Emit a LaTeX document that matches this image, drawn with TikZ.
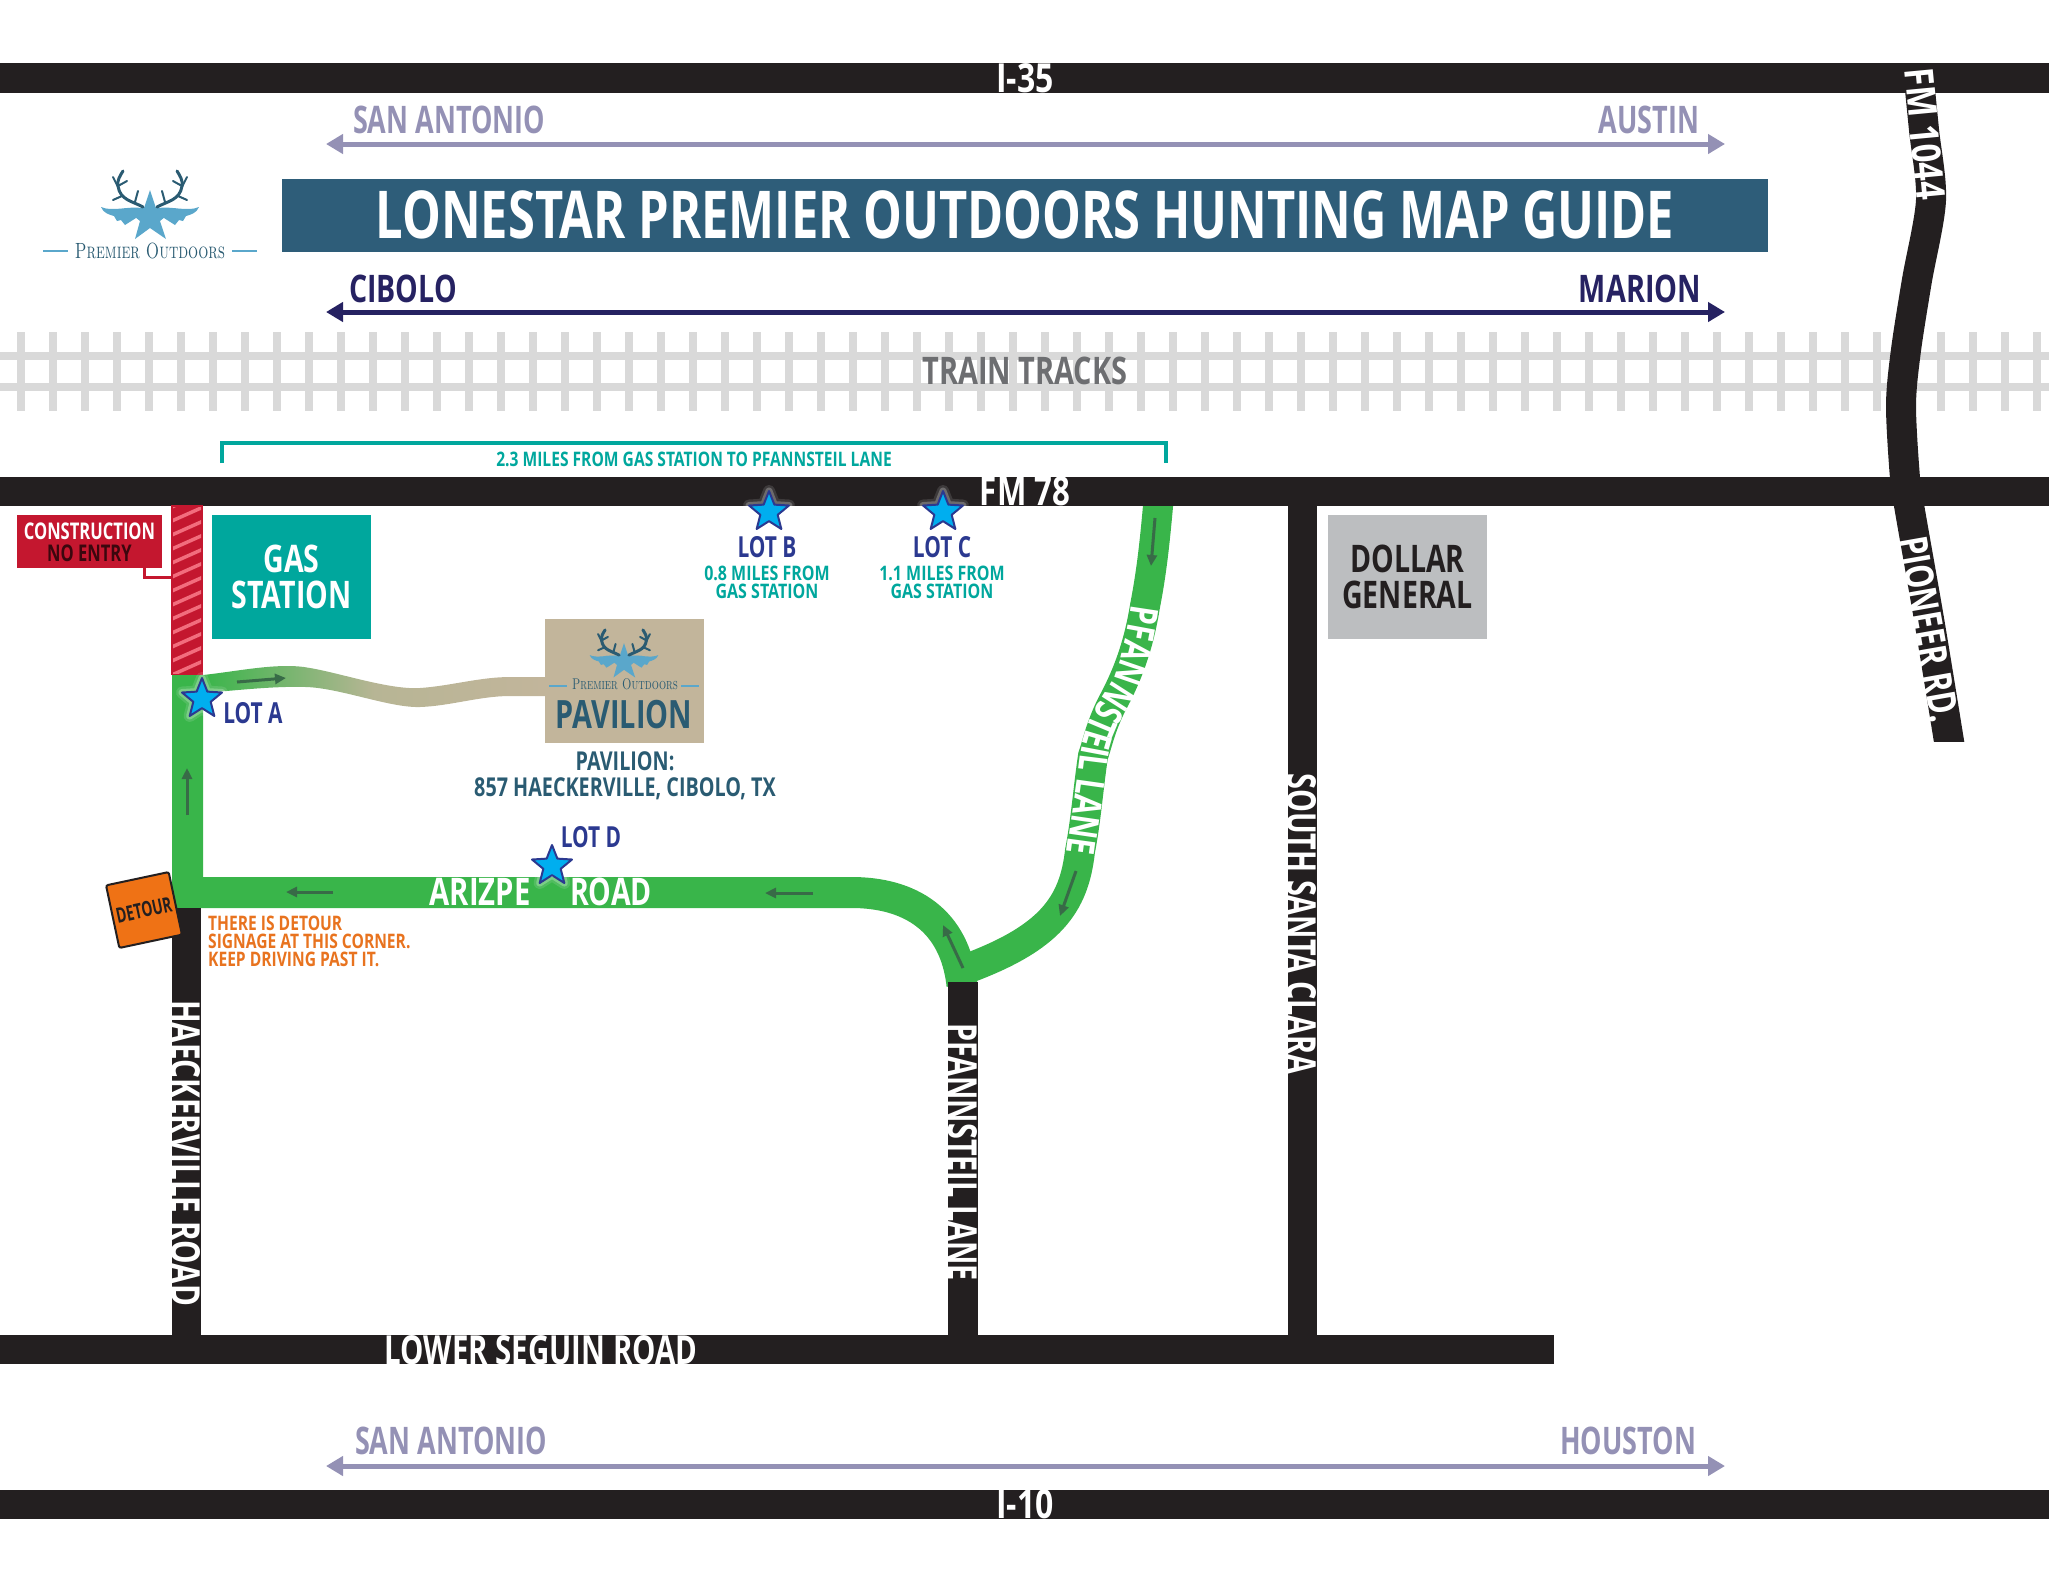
\documentclass[tikz,border=0pt]{standalone}
\usepackage{fontspec}
\setsansfont{Open Sans}
\newfontfamily\lanefont[FakeStretch=.74]{Open Sans}
\usetikzlibrary{arrows.meta, decorations.text, shapes.geometric}

\definecolor{roadblack}{HTML}{231F20}
\definecolor{bannerblue}{HTML}{2E5D79}
\definecolor{lavender}{HTML}{9491B5}
\definecolor{navyline}{HTML}{262262}
\definecolor{railgrey}{HTML}{D9D9D9}
\definecolor{tracktext}{HTML}{6D6E71}
\definecolor{gasteal}{HTML}{00A79D}
\definecolor{lanegreen}{HTML}{39B54A}
\definecolor{flowgreen}{HTML}{386B47}
\definecolor{pavtan}{HTML}{C2B59B}
\definecolor{dollargrey}{HTML}{BCBEC0}
\definecolor{closedred}{HTML}{C4172F}
\definecolor{closedpink}{HTML}{F26D7D}
\definecolor{lotblue}{HTML}{00AEEF}
\definecolor{lotnavy}{HTML}{2B3990}
\definecolor{detourorange}{HTML}{EF7215}
\definecolor{noteorange}{HTML}{E8731F}
\definecolor{logoblue}{HTML}{5AA7CB}
\definecolor{logodark}{HTML}{2A5B72}

\newcommand{\mapfont}[2]{\fontsize{#1}{#2}\selectfont\sffamily\bfseries}

\tikzset{
    every node/.style={inner sep=0pt},
    lettering/.style={xscale=#1},
    road/.style={fill=roadblack},
    roadlabel/.style={text=white, font=\mapfont{40}{40}},
    cityarrow/.style={line width=5pt, {Triangle[length=17pt,width=19pt]}-{Triangle[length=17pt,width=19pt]}},
    citylabel/.style={font=\mapfont{38}{38}},
    lane/.style={draw=lanegreen, line join=miter},
    flow/.style={draw=flowgreen, line width=3pt, -{Triangle[length=11pt,width=10pt]}},
    block/.style={minimum width=159pt, minimum height=124pt},
    blocklabel/.style={align=center, lettering=.75, font=\mapfont{38}{36}},
    lotlabel/.style={text=lotnavy, lettering=.72, font=\mapfont{29}{29}},
    milelabel/.style={text=gasteal, align=center, lettering=.80, font=\mapfont{20}{17.6}},
    lotstar/.style={star, star points=5, star point ratio=2.3, minimum size=42pt, fill=lotblue,
        draw=lotnavy, line width=2pt, line join=round,
        preaction={draw=white, line width=12pt, draw opacity=.12},
        preaction={draw=white, line width=7pt, draw opacity=.25}},
    logotext/.style={text=logodark, lettering=.72},
    logomark/.pic={
        \fill[logoblue] (0,-24) -- (6,-6) -- (26,-6) -- (10,7) -- (16,25) -- (0,14)
            -- (-15,25) -- (-10,7) -- (-26,-6) -- (-6,-6) -- cycle;
        \foreach \side in {1,-1} {
            \begin{scope}[xscale=\side]
                % wing and feathers
                \fill[logoblue] (-8,-6) .. controls (-22,-8) and (-38,-2) .. (-49,-7)
                    .. controls (-47,-1) and (-40,1) .. (-36,2) -- (-33,7) -- (-29,6) -- (-25,11) -- (-14,4) -- cycle;
                % antler
                \draw[logodark, line width=3pt, line cap=round]
                    (-7,-7) .. controls (-18,-13) and (-30,-14) .. (-32,-28) .. controls (-33,-34) and (-30,-38) .. (-27,-43);
                \draw[logodark, line width=2pt, line cap=round] (-15,-12) -- (-12,-23);
                \draw[logodark, line width=2pt, line cap=round] (-32,-28) -- (-23,-33);
                \draw[logodark, line width=2pt, line cap=round] (-32,-27) -- (-37,-37);
                \draw[logodark, line width=2pt, line cap=round] (-28,-18) -- (-37,-14);
                \draw[logoblue, line width=1.2pt] (-107,37) -- (-82,37);
            \end{scope}
        }
    },
}

\begin{document}
\begin{tikzpicture}[x=1pt, y=-1pt]
    \useasboundingbox (0,0) rectangle (2049,1583);

    % Train tracks
    \foreach \tiex in {21,53,...,2045} {
        \fill[railgrey] (\tiex-4,332) rectangle (\tiex+4,411);
    }
    \fill[railgrey] (0,352) rectangle (2049,360);
    \fill[railgrey] (0,383) rectangle (2049,391);
    \node[text=tracktext, lettering=.76, font=\mapfont{38}{38}] (tracks) at (1025,371) {TRAIN TRACKS};

    % Green route
    \draw[lane, line width=31pt] (187.5,675) -- (187.5,892.5) -- (850,892.5)
        .. controls (910,892) and (955,920) .. (962,985);
    \draw[lane, line width=30pt, line cap=round]
        (1159,495) .. controls (1155,540) and (1152,570) .. (1145,606)
        .. controls (1138,650) and (1125,680) .. (1112,704)
        .. controls (1100,728) and (1097,745) .. (1093,756)
        .. controls (1088,790) and (1086,820) .. (1080,851)
        .. controls (1074,905) and (1050,938) .. (966,969);
    \shade[left color=lanegreen, right color=pavtan, middle color=pavtan!92!lanegreen]
        (203,675) .. controls (240,671) and (280,662) .. (310,668)
        .. controls (340,673) and (390,690) .. (420,688)
        .. controls (450,686) and (480,677) .. (510,677) -- (545,677) -- (545,696) -- (510,696)
        .. controls (480,696) and (450,706) .. (420,707)
        .. controls (390,708) and (340,688) .. (306,687)
        .. controls (275,686) and (240,690) .. (203,693) -- cycle;

    % Roads
    \fill[road] (0,63) rectangle (2049,93);
    \fill[road] (0,1490) rectangle (2049,1519);
    \fill[road] (0,1335) rectangle (1554,1364);
    \fill[road] (172,908) rectangle (201,1335);
    \fill[road] (948,982) rectangle (978,1335);
    \fill[road] (1288,506) rectangle (1317,1335);
    \begin{scope}
        \clip (1800,63) rectangle (2049,741);
        \draw[roadblack, line width=30pt] plot[smooth] coordinates
            {(1917,60) (1924,130) (1931,200) (1917,280) (1906,350) (1901,405) (1905,478) (1910,511) (1930,625) (1952,760)};
    \end{scope}
    \fill[road] (0,477) rectangle (2049,506);

    \node[roadlabel, lettering=.80] (ithirtyfive) at (1025,78) {I-35};
    \node[roadlabel, lettering=.80] (iten) at (1025,1504) {I-10};
    \node[roadlabel, lettering=.78] (fmseventyeight) at (1025,491) {FM 78};
    \node[roadlabel, lettering=.735] (seguin) at (541,1350) {LOWER SEGUIN ROAD};
    \node[roadlabel, rotate=-90, lettering=.74] (haeckerville) at (186,1153) {HAECKERVILLE ROAD};
    \node[roadlabel, rotate=-90, lettering=.72] (pfannsteilroad) at (963,1152) {PFANNSTEIL LANE};
    \node[roadlabel, rotate=-90, lettering=.72] (santaclara) at (1302,924) {SOUTH SANTA CLARA};
    \node[roadlabel, rotate=-84.6, lettering=.82] (fmtenfortyfour) at (1925,134) {FM 1044};
    \node[roadlabel, rotate=-80, lettering=.75] (pioneer) at (1929,629) {PIONEER RD.};

    % Direction arrows with city names
    \coordinate (topwest) at (326,144);
    \coordinate (topeast) at (1725,144);
    \coordinate (midwest) at (326,312);
    \coordinate (mideast) at (1725,312);
    \coordinate (lowwest) at (326,1466);
    \coordinate (loweast) at (1725,1466);
    \draw[cityarrow, lavender] (topwest) -- (topeast);
    \draw[cityarrow, navyline] (midwest) -- (mideast);
    \draw[cityarrow, lavender] (lowwest) -- (loweast);
    \node[citylabel, lettering=.71, text=lavender] (westtop) at (449,120) {SAN ANTONIO};
    \node[citylabel, lettering=.71, text=lavender] (austin) at (1649,120) {AUSTIN};
    \node[citylabel, lettering=.75, text=navyline] (cibolo) at (403,289) {CIBOLO};
    \node[citylabel, lettering=.76, text=navyline] (marion) at (1640,289) {MARION};
    \node[citylabel, lettering=.71, text=lavender] (westlow) at (451,1441) {SAN ANTONIO};
    \node[citylabel, lettering=.71, text=lavender] (houston) at (1628,1441) {HOUSTON};

    % Title banner and logo
    \node[fill=bannerblue, minimum width=1486pt, minimum height=73pt] (banner) at (1025,215.5) {};
    \node[text=white, lettering=.74, font=\mapfont{66}{66}] (bannertext) at (1025,214.5)
        {LONESTAR PREMIER OUTDOORS HUNTING MAP GUIDE};
    \pic (toplogo) at (150,214) {logomark};
    \node[logotext, font=\fontsize{22}{22}\selectfont\rmfamily\scshape] (toplogotext) at (150,251) {Premier Outdoors};

    % Distance bracket
    \coordinate (bracketa) at (222,463);
    \coordinate (bracketb) at (222,443);
    \coordinate (bracketc) at (1166,443);
    \coordinate (bracketd) at (1166,463);
    \draw[gasteal, line width=4pt] (bracketa) -- (bracketb) -- (bracketc) -- (bracketd);
    \node[text=gasteal, lettering=.78, font=\mapfont{20}{20}] (distance) at (694,459) {2.3 MILES FROM GAS STATION TO PFANNSTEIL LANE};

    % Closed stretch
    \fill[closedred] (171,505) rectangle (203,675);
    \begin{scope}
        \clip (173,507) rectangle (201,673);
        \foreach \stripey in {510,524,...,700} {
            \draw[closedpink, line width=3.5pt] (165,\stripey) -- (210,\stripey-20);
        }
    \end{scope}
    \node[fill=closedred, minimum width=145pt, minimum height=53pt] (construction) at (89.5,541.5) {};
    \node[text=white, lettering=.72, font=\mapfont{23}{23}] (constructionone) at (89.5,531) {CONSTRUCTION};
    \node[text=closedred!30!black, lettering=.72, font=\mapfont{23}{23}] (constructiontwo) at (89.5,553) {NO ENTRY};
    \coordinate (leaderend) at (171,577);
    \draw[closedred, line width=3pt] (144,568) |- (leaderend);

    % Buildings
    \node[block, fill=gasteal] (gas) at (291.5,577) {};
    \node[blocklabel, text=white] (gaslabel) at (gas) {GAS\\STATION};
    \node[block, fill=dollargrey] (dollar) at (1407.5,577) {};
    \node[blocklabel, text=roadblack] (dollarlabel) at (dollar) {DOLLAR\\GENERAL};
    \fill[pavtan] (545,619) rectangle (704,743);
    \pic[scale=.7] (pavlogo) at (624,660) {logomark};
    \node[logotext, font=\fontsize{15.5}{15.5}\selectfont\rmfamily\scshape] (pavlogotext) at (625,684) {Premier Outdoors};
    \node[text=logodark, lettering=.74, font=\mapfont{39}{39}] (pavilion) at (624,715) {PAVILION};
    \node[text=logodark, align=center, lettering=.76, font=\mapfont{26}{26}] (address) at (625,775.5) {PAVILION:\\857 HAECKERVILLE, CIBOLO, TX};

    % Labels on the route
    \node[text=white, lettering=.77, font=\mapfont{38}{38}] (arizpe) at (480,892) {ARIZPE};
    \node[text=white, lettering=.75, font=\mapfont{38}{38}] (arizperoad) at (611,892) {ROAD};
    \begin{scope}[transform canvas={shift={(1100,730)}}]
        \path[decorate, decoration={text along path, text align=center,
            text={|\fontsize{39}{39}\selectfont\lanefont\bfseries\color{white}|PFANNSTEIL LANE}}]
            (32,-130) .. controls (28,-100) and (24,-80) .. (17,-60) .. controls (11,-45) and (4,-38) .. (-2,-26)
            .. controls (-12,-8) and (-18,10) .. (-20,26) .. controls (-24,60) and (-30,95) .. (-34,127);
    \end{scope}

    % Flow arrows
    \coordinate (flowastart) at (237,682);
    \coordinate (flowaend) at (286,678);
    \coordinate (flowbstart) at (187,815);
    \coordinate (flowbend) at (187,768);
    \coordinate (flowcstart) at (333,892);
    \coordinate (flowcend) at (286,892);
    \coordinate (flowdstart) at (813,893);
    \coordinate (flowdend) at (765,893);
    \coordinate (flowestart) at (963,968);
    \coordinate (floweend) at (943,925);
    \coordinate (flowfstart) at (1076,871);
    \coordinate (flowfend) at (1060,916);
    \coordinate (flowgstart) at (1155,518);
    \coordinate (flowgend) at (1151,566);
    \foreach \flowname in {a,b,c,d,e,f,g} {
        \draw[flow] (flow\flowname start) -- (flow\flowname end);
    }

    % Lots
    \node[lotstar] (lota) at (202,699) {};
    \node[lotstar] (lotb) at (769,512) {};
    \node[lotstar] (lotc) at (943,512) {};
    \node[lotstar] (lotd) at (552,866) {};
    \node[lotlabel] (lotalabel) at (253,713) {LOT A};
    \node[lotlabel] (lotblabel) at (767,547) {LOT B};
    \node[lotlabel] (lotclabel) at (942,547) {LOT C};
    \node[lotlabel] (lotdlabel) at (591,837) {LOT D};
    \node[milelabel] (lotbmiles) at (767,582.5) {0.8 MILES FROM\\GAS STATION};
    \node[milelabel] (lotcmiles) at (942,582.5) {1.1 MILES FROM\\GAS STATION};

    % Detour sign and note
    \node[fill=detourorange, draw=roadblack, line width=2pt, rounded corners=2pt, rotate=12,
        minimum size=64pt] (detour) at (144,910) {};
    \node[text=roadblack, rotate=12, lettering=.66, font=\mapfont{21}{21}] (detourlabel) at (detour) {DETOUR};
    \node[anchor=north west, text=noteorange, align=left, lettering=.78, font=\mapfont{20}{18}] (detournote) at (208,916)
        {THERE IS DETOUR\\SIGNAGE AT THIS CORNER.\\KEEP DRIVING PAST IT.};
\end{tikzpicture}
\end{document}
